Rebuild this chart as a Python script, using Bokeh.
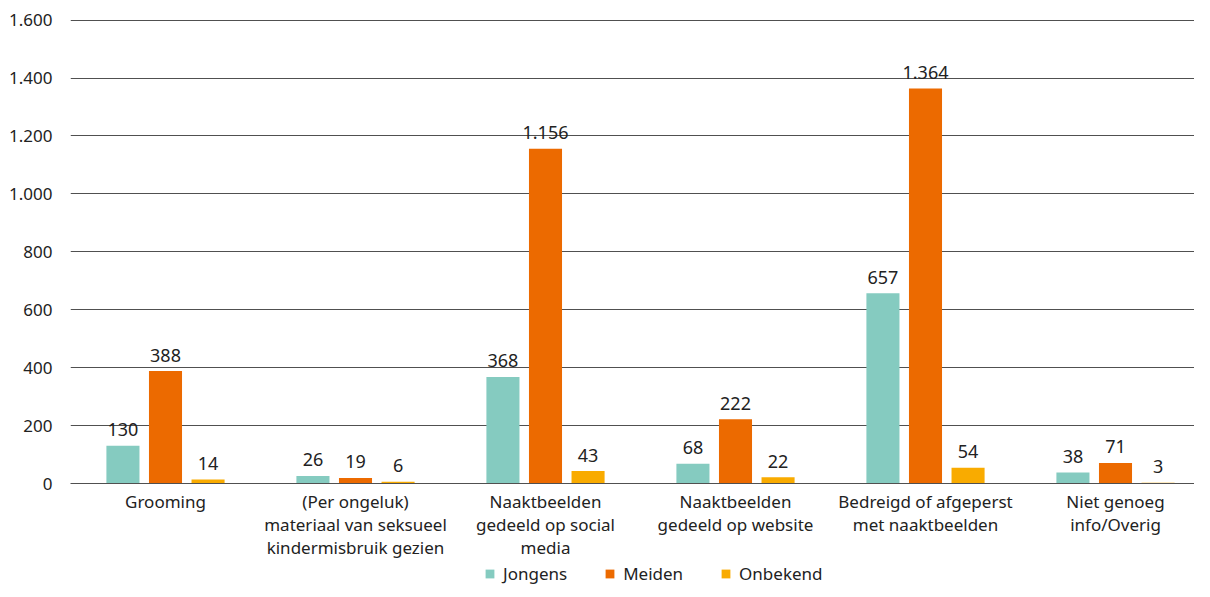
from bokeh.plotting import figure
from bokeh.layouts import column
from bokeh.models import ColumnDataSource, Range1d, FixedTicker, Legend, LegendItem
from bokeh.transform import dodge
from bokeh.core.properties import value
from bokeh.embed import file_html
from bokeh.resources import INLINE

categories = ["Grooming",
              "(Per ongeluk)\nmateriaal van seksueel\nkindermisbruik gezien",
              "Naaktbeelden\ngedeeld op social\nmedia",
              "Naaktbeelden\ngedeeld op website",
              "Bedreigd of afgeperst\nmet naaktbeelden",
              "Niet genoeg\ninfo/Overig"]
series = ["Jongens", "Meiden", "Onbekend"]
jongens = [130, 26, 368, 68, 657, 38]
meiden = [388, 19, 1156, 222, 1364, 71]
onbekend = [14, 6, 43, 22, 54, 3]
y_ticks = [0, 200, 400, 600, 800, 1000, 1200, 1400, 1600]
y_tick_labels = ["0", "200", "400", "600", "800", "1.000", "1.200", "1.400", "1.600"]

colors = ["#85CBC0", "#EC6A00", "#F9AB00"]
FONT = "Noto Sans"
TXT = "#222222"

def nl(v):
    return f"{v:,}".replace(",", ".")

xpos = [i + 0.5 for i in range(len(categories))]

src = ColumnDataSource(dict(
    x=xpos,
    Jongens=jongens, Meiden=meiden, Onbekend=onbekend,
    Jongens_l=[nl(v) for v in jongens],
    Meiden_l=[nl(v) for v in meiden],
    Onbekend_l=[nl(v) for v in onbekend],
))

W = 1194
H_MAIN, H_LEG, OVERLAP = 561, 25, 5
LEFT, TOP = 70, 19
BOTTOM = H_MAIN - 484
cat_px = 190.0
p = figure(x_range=Range1d(0, (W - LEFT) / cat_px),
           y_range=Range1d(0, 1602),
           width=W, height=H_MAIN, output_backend="svg", toolbar_location=None,
           min_border_left=LEFT, min_border_right=0, min_border_top=TOP,
           min_border_bottom=BOTTOM)
p.outline_line_color = None

offsets = [-0.224, 0.0, 0.224]
for s, off, c in zip(series, offsets, colors):
    p.vbar(x=dodge("x", off), top=s, width=0.174, source=src,
           fill_color=c, line_color=None)
    p.text(x=dodge("x", off), y=s, text=s + "_l", source=src,
           text_align="center", text_baseline="alphabetic", y_offset=-16,
           text_font=value(FONT), text_font_size="18px", text_color=TXT)

p.xgrid.grid_line_color = None
p.ygrid.grid_line_color = "#505050"
p.ygrid.grid_line_width = 1
p.ygrid.ticker = FixedTicker(ticks=y_ticks)

p.yaxis.ticker = FixedTicker(ticks=y_ticks)
p.yaxis.major_label_overrides = {t: l for t, l in zip(y_ticks, y_tick_labels)}
p.yaxis.axis_line_color = None
p.yaxis.major_tick_line_color = None
p.yaxis.minor_tick_line_color = None
p.yaxis.major_label_standoff = 12
p.yaxis.major_label_text_font = FONT
p.yaxis.major_label_text_font_size = "17px"
p.yaxis.major_label_text_color = TXT

p.xaxis.ticker = FixedTicker(ticks=xpos)
p.xaxis.major_label_overrides = {x: c for x, c in zip(xpos, categories)}
p.xaxis.axis_line_color = "#505050"
p.xaxis.axis_line_width = 1
p.xaxis.major_tick_line_color = None
p.xaxis.minor_tick_line_color = None
p.xaxis.major_label_standoff = 0
p.xaxis.major_label_text_font = FONT
p.xaxis.major_label_text_font_size = "17px"
p.xaxis.major_label_text_color = TXT
p.xaxis.major_label_text_line_height = 1.0

# legend strip (frame aligned with the main plot's frame by the column layout)
lg = figure(width=W, height=H_LEG, output_backend="svg", toolbar_location=None,
            x_range=Range1d(0, 1), y_range=Range1d(0, 1),
            min_border_left=LEFT, min_border_right=0, min_border_top=0, min_border_bottom=0)
lg.axis.visible = False
lg.grid.visible = False
lg.outline_line_color = None
lg.background_fill_alpha = 0
lg.border_fill_alpha = 0
items = []
for s, c in zip(series, colors):
    r = lg.vbar(x=[-10], top=[-10], bottom=[-11], width=0.1, fill_color=c, line_color=None)
    items.append(LegendItem(label=s, renderers=[r]))
legend = Legend(items=items, orientation="horizontal", location=(414, 1),
                label_text_font=FONT, label_text_font_size="17px", label_text_color=TXT,
                glyph_width=11, glyph_height=11, spacing=37, label_standoff=8,
                border_line_color=None, background_fill_alpha=0, padding=0, margin=0)
lg.add_layout(legend, "center")

layout = column(p, lg, spacing=-OVERLAP)
open("out.html", "w").write(file_html(layout, INLINE))
